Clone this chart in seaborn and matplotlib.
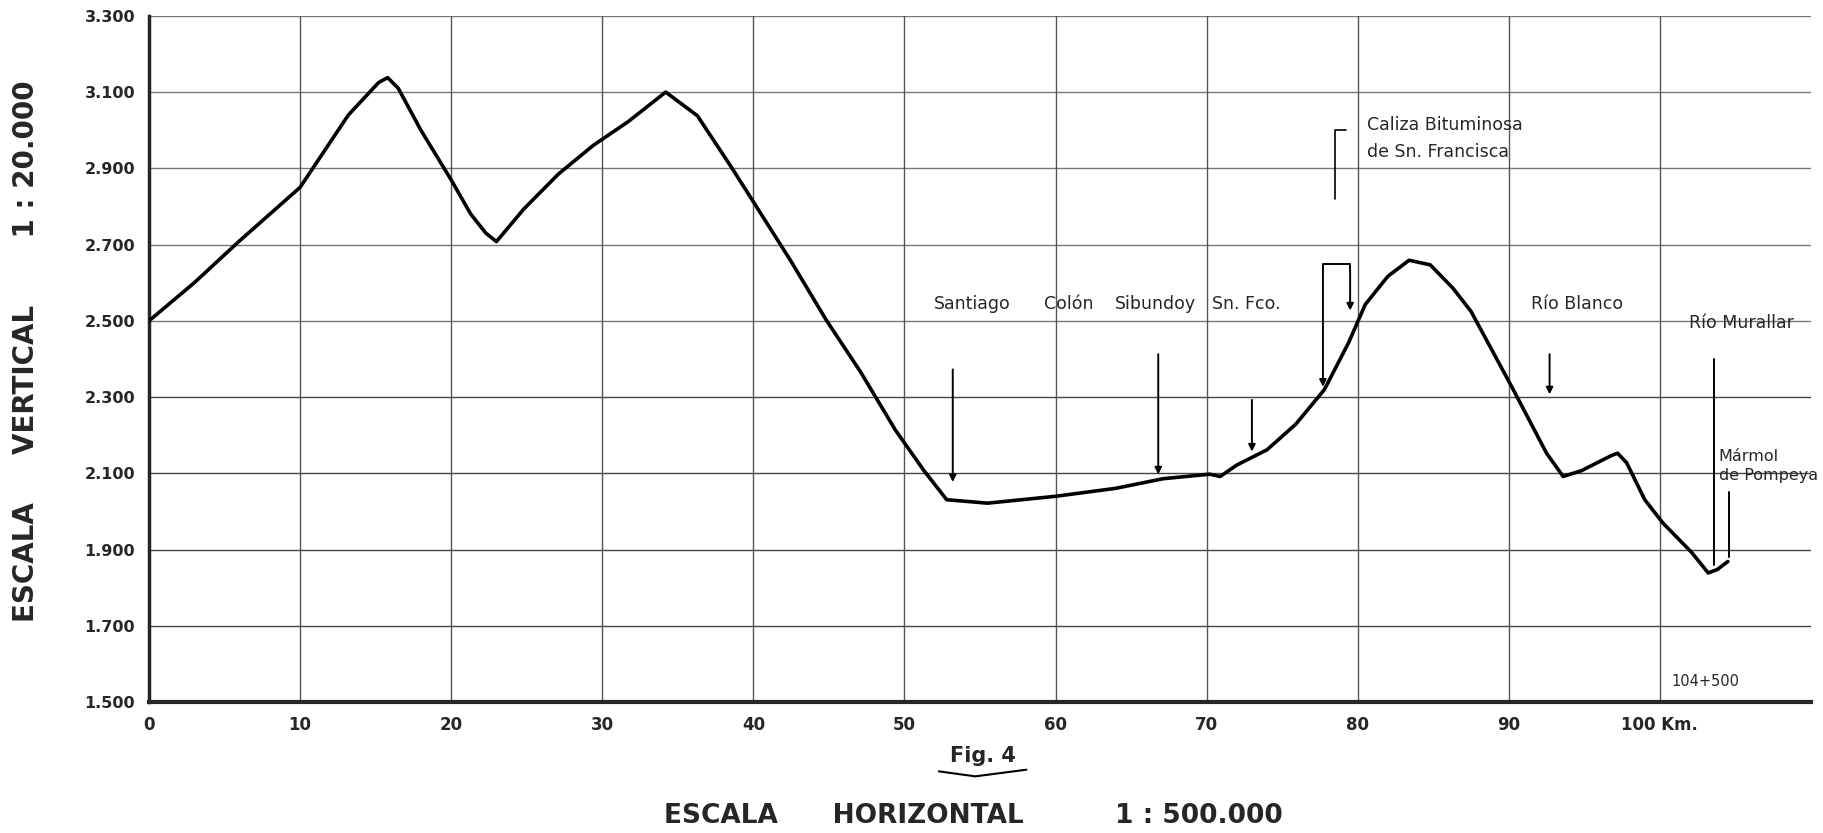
import matplotlib
matplotlib.use("Agg")
import matplotlib.pyplot as plt
import seaborn as sns
import pandas as pd

# Elevation profile (km, m)
km = [0, 3, 6, 10, 13.2, 15.2, 15.8, 16.5, 18, 20, 21.3, 22.3, 23, 24.8, 27.1,
      29.4, 31.7, 34.2, 36.3, 38.6, 40.2, 42.5, 44.8, 47.1, 49.4, 51.3, 52.8,
      55.5, 60, 64, 67.1, 70.2, 70.9, 72, 74, 75.9, 77.8, 79.4, 80.5, 82, 83.4,
      84.8, 86.3, 87.5, 90.2, 92.5, 93.6, 94.8, 96.8, 97.2, 97.8, 99, 100.2,
      102.1, 103.2, 103.8, 104.5]
elev = [2500, 2600, 2710, 2850, 3040, 3125, 3138, 3110, 3000, 2870, 2780, 2730,
        2708, 2793, 2885, 2960, 3022, 3100, 3038, 2900, 2800, 2656, 2504, 2366,
        2214, 2107, 2031, 2022, 2040, 2061, 2086, 2098, 2092, 2122, 2162, 2229,
        2320, 2443, 2543, 2617, 2659, 2647, 2586, 2525, 2327, 2153, 2092, 2107,
        2147, 2153, 2128, 2031, 1970, 1893, 1839, 1848, 1869]

x_ticks = [0, 10, 20, 30, 40, 50, 60, 70, 80, 90, 100]
x_labels = ["0", "10", "20", "30", "40", "50", "60", "70", "80", "90", "100 Km."]
y_ticks = [1500, 1700, 1900, 2100, 2300, 2500, 2700, 2900, 3100, 3300]
y_labels = ["1.500", "1.700", "1.900", "2.100", "2.300", "2.500", "2.700",
            "2.900", "3.100", "3.300"]

# Place labels: (text, km, elevation)
places = [("Santiago", 54.5, 2520), ("Colón", 60.9, 2520), ("Sibundoy", 66.6, 2520),
          ("Sn. Fco.", 72.6, 2520), ("Río Blanco", 94.5, 2520),
          ("Río Murallar", 105.4, 2470)]

sns.set_style("white")
plt.rcParams['font.family'] = ['DejaVu Sans']

fig = plt.figure(figsize=(18.23, 8.33), dpi=100)
ax = fig.add_axes([0.0817, 0.157, 0.9117, 0.824])

df = pd.DataFrame({"km": km, "elev": elev})

# grid
for yv in y_ticks[1:]:
    c = "#444444" if yv <= 2300 else "#777777"
    ax.axhline(yv, color=c, lw=1.0, zorder=1)
for xv in x_ticks[1:]:
    ax.axvline(xv, color="#555555", lw=1.0, zorder=1)

sns.lineplot(data=df, x="km", y="elev", color="black", lw=2.6, ax=ax, zorder=3)

ax.set_xlim(0, 110)
ax.set_ylim(1500, 3300)
ax.set_xticks(x_ticks)
ax.set_xticklabels(x_labels, fontsize=12, fontweight="bold")
ax.set_yticks(y_ticks)
ax.set_yticklabels(y_labels, fontsize=11.5, fontweight="bold")
ax.tick_params(axis="both", length=4, color="#666666", pad=6)
ax.set_xlabel("")
ax.set_ylabel("")
for s in ["top", "right"]:
    ax.spines[s].set_visible(False)
ax.spines["left"].set_linewidth(2.5)
ax.spines["bottom"].set_linewidth(3)

# place annotations
for name, xk, yk in places:
    ax.text(xk, yk, name, ha="center", va="bottom", fontsize=12.5, zorder=4)

arrow = dict(arrowstyle="-|>", color="black", lw=1.4)
ax.annotate("", xy=(53.2, 2070), xytext=(53.2, 2380), arrowprops=arrow)
ax.annotate("", xy=(66.8, 2090), xytext=(66.8, 2420), arrowprops=arrow)
ax.annotate("", xy=(73.0, 2150), xytext=(73.0, 2300), arrowprops=arrow)
ax.annotate("", xy=(92.7, 2300), xytext=(92.7, 2420), arrowprops=arrow)
ax.plot([103.6, 103.6], [1860, 2400], color="black", lw=1.4)
ax.plot([104.6, 104.6], [1880, 2050], color="black", lw=1.4)

# Caliza bracket
ax.text(80.6, 2990, "Caliza Bituminosa", fontsize=12.5, va="bottom")
ax.text(80.6, 2920, "de Sn. Francisca", fontsize=12.5, va="bottom")
ax.plot([78.5, 78.5, 79.2], [2820, 3000, 3000], color="black", lw=1.2)
ax.plot([77.7, 77.7, 79.5, 79.5], [2630, 2650, 2650, 2630], color="black", lw=1.4)
ax.annotate("", xy=(77.7, 2320), xytext=(77.7, 2640), arrowprops=arrow)
ax.annotate("", xy=(79.5, 2520), xytext=(79.5, 2640), arrowprops=arrow)

ax.text(103.9, 2120, "Mármol\nde Pompeya", fontsize=11.5, va="center",
        ha="left", linespacing=1.3)
ax.text(103.0, 1535, "104+500", fontsize=10.5, ha="center", va="bottom")

fig.text(0.539, 0.085, "Fig. 4", fontsize=15, fontweight="bold", ha="center")
fig.add_artist(plt.Line2D([0.515, 0.535, 0.563], [0.074, 0.068, 0.076],
                          color="black", lw=1.5, transform=fig.transFigure))
fig.text(0.534, 0.012, "ESCALA      HORIZONTAL          1 : 500.000",
         fontsize=19, fontweight="bold", ha="center")
fig.text(0.014, 0.578, "ESCALA     VERTICAL       1 : 20.000", fontsize=20,
         fontweight="bold", rotation=90, ha="center", va="center")

fig.savefig("out.png", dpi=100)
